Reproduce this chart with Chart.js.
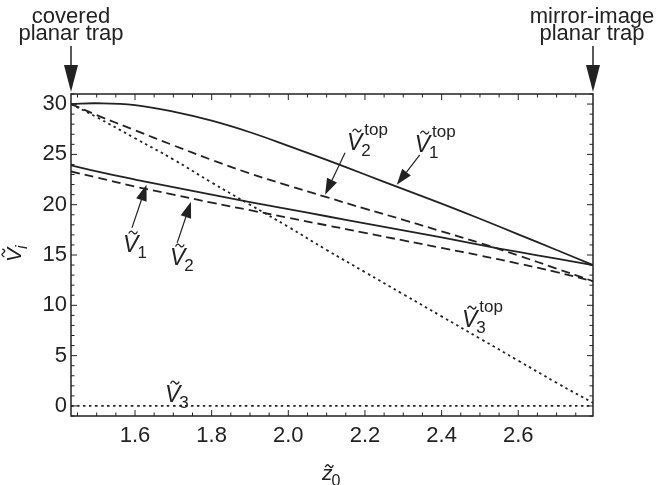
<!DOCTYPE html>
<html>
<head>
<meta charset="utf-8">
<script src="https://cdn.jsdelivr.net/npm/chart.js@4.4.0/dist/chart.umd.min.js"></script>
<style>
  html, body { margin: 0; padding: 0; background: #fff; }
</style>
</head>
<body>
<canvas id="myChart" width="659" height="485"></canvas>
<script>
const zValues = [1.433, 1.5, 1.6, 1.7, 1.8, 1.9, 2.0, 2.1, 2.2, 2.3, 2.4, 2.5, 2.6, 2.7, 2.795];
const v1Top = [30.0, 30.08, 29.9, 29.25, 28.35, 27.2, 25.85, 24.45, 23.0, 21.55, 20.1, 18.6, 17.05, 15.5, 14.0];
const v2Top = [30.0, 28.9, 27.4, 25.9, 24.45, 23.1, 21.9, 20.75, 19.6, 18.5, 17.35, 16.2, 14.95, 13.65, 12.4];
const v3Top = [30.0, 28.7, 26.6, 24.5, 22.2, 20.0, 17.8, 15.5, 13.3, 11.1, 8.9, 6.7, 4.5, 2.3, 0.3];
const v1 = [23.9, 23.3, 22.5, 21.75, 21.0, 20.25, 19.55, 18.85, 18.15, 17.45, 16.75, 16.0, 15.3, 14.65, 14.0];
const v2 = [23.3, 22.7, 21.8, 21.0, 20.2, 19.45, 18.7, 17.95, 17.2, 16.45, 15.7, 14.95, 14.15, 13.3, 12.4];
const v3 = [0, 0, 0, 0, 0, 0, 0, 0, 0, 0, 0, 0, 0, 0, 0];

const xTickValues = [1.6, 1.8, 2.0, 2.2, 2.4, 2.6];
const yTickValues = [0, 5, 10, 15, 20, 25, 30];

const FONT = '"Liberation Sans", Arial, sans-serif';
const INK = '#222';

const toPoints = ys => zValues.map((z, i) => ({ x: z, y: ys[i] }));

function series(ys, dash) {
  return {
    data: toPoints(ys),
    borderColor: INK,
    borderWidth: 1.8,
    borderDash: dash,
    pointRadius: 0,
    fill: false,
    tension: 0.4
  };
}

// curve labels: V letter anchored (left, baseline) in data coords
const curveLabels = [
  { z: 2.330, v: 25.25, sub: '1', sup: 'top', tail: [2.343, 24.95], tip: [2.283, 21.97] },
  { z: 2.153, v: 25.45, sub: '2', sup: 'top', tail: [2.148, 25.15], tip: [2.096, 21.0] },
  { z: 1.569, v: 15.31, sub: '1', sup: '', tail: [1.592, 17.69], tip: [1.630, 21.97] },
  { z: 1.691, v: 14.02, sub: '2', sup: '', tail: [1.710, 16.2], tip: [1.746, 20.28] },
  { z: 1.678, v: 0.40, sub: '3', sup: '' },
  { z: 2.453, v: 7.85, sub: '3', sup: 'top' }
];

function tilde(ctx, cx, cy, w) {
  ctx.beginPath();
  ctx.moveTo(cx - w / 2, cy + 1);
  ctx.bezierCurveTo(cx - w / 4, cy - 3, cx - w / 8, cy - 1, cx, cy);
  ctx.bezierCurveTo(cx + w / 8, cy + 1, cx + w / 4, cy + 3, cx + w / 2, cy - 1);
  ctx.lineWidth = 1.3;
  ctx.stroke();
}

function symbolLabel(ctx, x, y, letter, size, sub, sup, subItalic) {
  ctx.font = 'italic ' + size + 'px ' + FONT;
  ctx.textAlign = 'left';
  ctx.textBaseline = 'alphabetic';
  ctx.fillText(letter, x, y);
  const w = ctx.measureText(letter).width;
  const tildeY = letter === 'V' ? y - size * 0.84 : y - size * 0.66;
  tilde(ctx, x + w * 0.5 + size * 0.1, tildeY, size * 0.38);
  const small = Math.round(size * 0.74);
  ctx.font = (subItalic ? 'italic ' : '') + small + 'px ' + FONT;
  if (sub) ctx.fillText(sub, x + w - 1, y + size * 0.27);
  ctx.font = small + 'px ' + FONT;
  if (sup) ctx.fillText(sup, x + w + 2, y - size * 0.65);
}

function arrow(ctx, x1, y1, x2, y2, headLen, headHalf, lw) {
  const ang = Math.atan2(y2 - y1, x2 - x1);
  const bx = x2 - headLen * Math.cos(ang);
  const by = y2 - headLen * Math.sin(ang);
  ctx.beginPath();
  ctx.moveTo(x1, y1);
  ctx.lineTo(bx, by);
  ctx.lineWidth = lw;
  ctx.stroke();
  ctx.beginPath();
  ctx.moveTo(x2, y2);
  ctx.lineTo(bx + headHalf * Math.sin(ang), by - headHalf * Math.cos(ang));
  ctx.lineTo(bx - headHalf * Math.sin(ang), by + headHalf * Math.cos(ang));
  ctx.closePath();
  ctx.fill();
}

const decorations = {
  id: 'decorations',
  afterDraw(chart) {
    const { ctx, chartArea: { left, right, top, bottom }, scales: { x, y } } = chart;
    ctx.save();
    ctx.strokeStyle = INK;
    ctx.fillStyle = INK;

    // inward ticks on all four sides
    ctx.lineWidth = 1;
    ctx.beginPath();
    for (let k = 29; k <= 55; k++) {
      const px = x.getPixelForValue(k * 0.05);
      const len = k % 4 === 0 ? 6 : 3.5;
      ctx.moveTo(px, bottom); ctx.lineTo(px, bottom - len);
      ctx.moveTo(px, top); ctx.lineTo(px, top + len);
    }
    for (let k = -1; k <= 31; k++) {
      const py = y.getPixelForValue(k);
      const len = k % 5 === 0 ? 6 : 3.5;
      ctx.moveTo(left, py); ctx.lineTo(left + len, py);
      ctx.moveTo(right, py); ctx.lineTo(right - len, py);
    }
    ctx.stroke();

    // frame
    ctx.lineWidth = 1.5;
    ctx.strokeRect(left, top, right - left, bottom - top);

    // top annotations
    ctx.font = '22px ' + FONT;
    ctx.textAlign = 'center';
    ctx.textBaseline = 'alphabetic';
    ctx.fillText('covered', left, 23);
    ctx.fillText('planar trap', left, 40);
    ctx.fillText('mirror-image', 592, 23);
    ctx.fillText('planar trap', 592, 40);
    arrow(ctx, left, 46, left, top - 2, 27, 7, 1.5);
    arrow(ctx, right, 46, right, top - 2, 27, 7, 1.5);

    // curve labels and pointer arrows
    curveLabels.forEach(l => {
      symbolLabel(ctx, x.getPixelForValue(l.z), y.getPixelForValue(l.v), 'V', 23, l.sub, l.sup, false);
      if (l.tail) {
        arrow(ctx,
          x.getPixelForValue(l.tail[0]), y.getPixelForValue(l.tail[1]),
          x.getPixelForValue(l.tip[0]), y.getPixelForValue(l.tip[1]),
          16, 5.5, 1.2);
      }
    });

    // axis titles
    symbolLabel(ctx, 322, 480, 'z', 21, '0', '', false);
    ctx.save();
    ctx.translate(21, 262);
    ctx.rotate(-Math.PI / 2);
    symbolLabel(ctx, 0, 0, 'V', 21, 'i', '', true);
    ctx.restore();

    ctx.restore();
  }
};

const ctx = document.getElementById('myChart');
new Chart(ctx, {
  type: 'line',
  data: {
    datasets: [
      series(v1Top, []),
      series(v2Top, [9, 5]),
      series(v3Top, [2.5, 3.5]),
      series(v1, []),
      series(v2, [9, 5]),
      series(v3, [2.5, 3.5])
    ]
  },
  options: {
    responsive: false,
    animation: false,
    devicePixelRatio: 1,
    layout: { padding: { top: 94, right: 66, left: 0, bottom: 0 } },
    plugins: { legend: { display: false }, tooltip: { enabled: false } },
    scales: {
      x: {
        type: 'linear',
        min: 1.433,
        max: 2.795,
        grid: { display: false, drawTicks: false },
        border: { display: false },
        afterBuildTicks: s => { s.ticks = xTickValues.map(v => ({ value: v })); },
        afterFit: s => { s.height = 69; },
        ticks: {
          padding: 7, color: INK, maxRotation: 0, autoSkip: false,
          font: { family: FONT, size: 22 },
          callback: v => v.toFixed(1)
        }
      },
      y: {
        type: 'linear',
        min: -1,
        max: 31,
        grid: { display: false, drawTicks: false },
        border: { display: false },
        afterBuildTicks: s => { s.ticks = yTickValues.map(v => ({ value: v })); },
        afterFit: s => { s.width = 71; },
        ticks: {
          padding: 4, color: INK, autoSkip: false,
          font: { family: FONT, size: 22 },
          callback: v => String(v)
        }
      }
    }
  },
  plugins: [decorations]
});
</script>
</body>
</html>
